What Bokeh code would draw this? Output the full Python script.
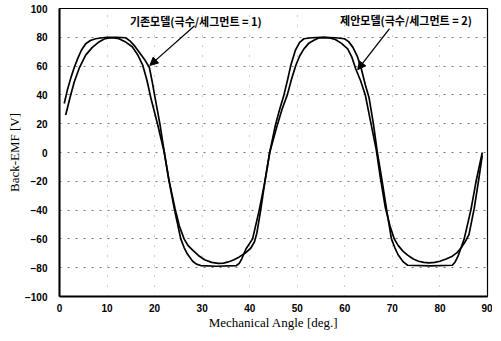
from bokeh.plotting import figure
from bokeh.models import Range1d, Arrow, NormalHead, Label, FixedTicker
from bokeh.embed import file_html
from bokeh.resources import INLINE

# Existing model (poles/segment = 1): flat-topped curve
angle_a = [1.0, 1.7, 2.4, 3.1, 3.8, 4.6, 5.5, 6.5, 7.6, 9.0, 10.0, 12.0, 13.9, 14.8, 15.8,
           17.0, 18.0, 18.9, 19.5, 20.1, 21.1, 22.0, 23.0, 24.2, 25.5, 26.2, 26.9, 28.0,
           28.8, 29.7, 33.0, 37.2, 37.8, 38.3, 39.2, 40.6, 42.0, 43.2, 44.2, 45.4, 46.3,
           47.2, 48.0, 48.6, 49.6, 50.5, 51.4, 53.0, 55.0, 58.0, 59.9, 60.8, 61.7, 62.6,
           63.4, 64.3, 65.1, 66.0, 66.8, 67.8, 68.8, 69.8, 70.5, 71.2, 72.3, 73.2, 78.0,
           82.6, 83.2, 83.8, 84.4, 85.1, 86.5, 87.6, 88.9]
emf_a = [34, 44, 52, 59, 65, 71, 75.5, 77.8, 79, 79.7, 80, 80, 79.7, 77.5, 74,
         68.5, 64, 59, 49, 38, 20, 1, -19, -40, -60, -66, -70.5, -75.5,
         -77.5, -78.5, -79, -78.5, -77, -74, -67, -60, -40, -20, 0, 19, 30,
         40, 51, 60, 71, 76.5, 79, 79.7, 80, 79.7, 79, 77, 73, 67,
         59, 47, 38, 20, 1, -19, -40, -60, -66, -71, -76, -78.3, -78.8,
         -78.3, -76, -72, -66.5, -60, -40, -20, 0]

# Proposed model (poles/segment = 2): sinusoidal curve
angle_b = [1.3, 2.2, 3.1, 4.2, 5.5, 6.9, 8.3, 9.4, 10.4, 11.5, 12.5, 14.0, 15.3, 16.5,
           17.5, 18.4, 19.2, 20.6, 22.0, 23.0, 24.3, 25.2, 26.2, 27.0, 28.0, 29.2, 30.5,
           32.0, 33.4, 34.5, 35.5, 36.7, 37.8, 39.0, 40.2, 41.0, 41.5, 42.3, 43.2, 44.2,
           45.8, 46.8, 47.9, 48.8, 49.7, 50.5, 51.4, 52.4, 53.5, 54.5, 55.6, 56.8, 58.0,
           59.3, 60.6, 61.5, 62.3, 63.3, 64.3, 65.5, 66.6, 67.5, 68.5, 69.5, 70.4, 71.2,
           72.2, 73.2, 74.4, 75.5, 76.6, 77.7, 78.9, 80.0, 81.3, 82.6, 83.6, 84.5, 85.3,
           86.1, 87.2, 88.1, 88.9]
emf_b = [26, 38, 49, 59, 67.6, 73, 76.8, 78.8, 79.6, 79.6, 79, 76.5, 73.4, 67.5,
         60.6, 50, 38, 20, 0.5, -19, -39, -51, -60, -64.5, -67.8, -71.5, -74.5,
         -76.3, -77, -76.8, -76, -74.5, -72.5, -70, -66.5, -62, -56, -40, -20, 0,
         19, 30, 40, 51, 60.6, 67, 72, 75.8, 78, 79.5, 80, 79.6, 78.5,
         75.8, 72, 66, 58, 50, 40, 20, 2, -18, -38, -51, -60, -64.5,
         -68.5, -71.3, -74, -75.5, -76.3, -76.6, -76.3, -75.5, -74, -72, -69.5, -66, -62,
         -57, -39, -20, -2]

x_ticks = [0, 10, 20, 30, 40, 50, 60, 70, 80, 90]
y_ticks = [-100, -80, -60, -40, -20, 0, 20, 40, 60, 80, 100]

label_a = "기존모델(극수/세그먼트 = 1)"
label_b = "제안모델(극수/세그먼트 = 2)"

p = figure(width=492, height=332, output_backend="svg", toolbar_location=None,
           x_range=Range1d(0, 90), y_range=Range1d(-100, 100),
           min_border_left=59, min_border_right=5, min_border_top=8, min_border_bottom=36)

p.background_fill_color = "white"
p.border_fill_color = "white"
p.outline_line_color = "black"
p.outline_line_width = 1.2

p.xaxis.ticker = FixedTicker(ticks=x_ticks)
p.yaxis.ticker = FixedTicker(ticks=y_ticks)

for ax in (p.xaxis[0], p.yaxis[0]):
    ax.axis_line_color = "black"
    ax.axis_line_width = 2
    ax.major_tick_line_color = None
    ax.minor_tick_line_color = None
    ax.major_label_text_font = "Liberation Sans"
    ax.major_label_text_font_style = "bold"
    ax.major_label_text_font_size = "10px"
    ax.major_label_text_color = "black"
    ax.axis_label_text_font = "Liberation Serif"
    ax.axis_label_text_font_style = "normal"
    ax.axis_label_text_font_size = "13px"
    ax.axis_label_text_color = "black"

p.xaxis.major_label_standoff = 1
p.yaxis.major_label_standoff = 6
p.xaxis.axis_label = "Mechanical Angle [deg.]"
p.yaxis.axis_label = "Back-EMF [V]"
p.xaxis.axis_label_standoff = 0
p.yaxis.axis_label_standoff = 0

p.xgrid.grid_line_color = "#888888"
p.xgrid.grid_line_dash = "1 9"
p.xgrid.grid_line_alpha = 0.8
p.ygrid.grid_line_color = "#666666"
p.ygrid.grid_line_dash = "2 6"
p.ygrid.grid_line_alpha = 0.9

p.line(angle_a, emf_a, line_color="black", line_width=1.7, line_join="round")
p.line(angle_b, emf_b, line_color="black", line_width=1.7, line_join="round")

# annotations
p.add_layout(Label(x=14.8, y=91, text=label_a, text_font="Noto Sans CJK KR",
                   text_font_size="11px", text_font_style="bold", text_baseline="middle",
                   text_color="black"))
p.add_layout(Label(x=59.0, y=92, text=label_b, text_font="Noto Sans CJK KR",
                   text_font_size="11px", text_font_style="bold", text_baseline="middle",
                   text_color="black"))
p.add_layout(Arrow(x_start=28.4, y_start=88, x_end=19.0, y_end=60.5, line_width=1.3,
                   end=NormalHead(size=8, fill_color="black", line_color="black")))
p.add_layout(Arrow(x_start=69.4, y_start=86, x_end=62.7, y_end=57.5, line_width=1.3,
                   end=NormalHead(size=8, fill_color="black", line_color="black")))

open("out.html", "w").write(file_html(p, INLINE))
